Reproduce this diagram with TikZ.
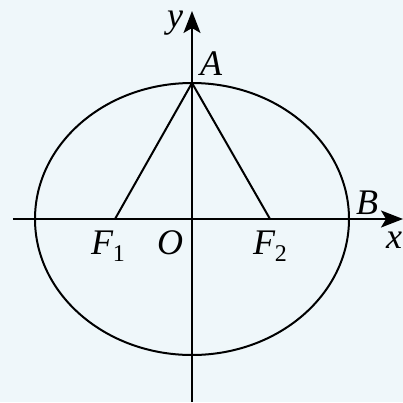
\documentclass[tikz,border=0pt]{standalone}
\usepackage{fontspec}
\setmainfont{Liberation Serif}
\usetikzlibrary{arrows.meta}
\definecolor{bgcol}{RGB}{239,247,250}
\tikzset{
  curve/.style={line width=2pt, black},
  axis/.style={line width=2pt, black, -{Stealth[length=22pt,width=17pt,inset=5pt]}},
  lbl/.style={inner sep=0pt, font=\fontsize{36}{36}\selectfont\itshape}
}
\newcommand{\subone}[1]{\raisebox{-0.2em}{\fontsize{24}{24}\selectfont\upshape #1}}
\begin{document}
\begin{tikzpicture}[x=1pt,y=1pt]
\fill[bgcol] (-192,-183) rectangle (211,219);
\useasboundingbox (-192,-183) rectangle (211,219);
\coordinate (O) at (0,0);
\coordinate (A) at (0,136);
\coordinate (F1) at (-77,0);
\coordinate (F2) at (78,0);
\coordinate (xs) at (-179,0);
\coordinate (xe) at (211,0);
\coordinate (ys) at (0,-183);
\coordinate (ye) at (0,208);
\draw[curve] (O) ellipse [x radius=157, y radius=136];
\draw[axis] (xs) -- (xe);
\draw[axis] (ys) -- (ye);
\draw[curve, line join=miter] (F1) -- (A) -- (F2);
\node[lbl] (ly) at (-17,196) {y};
\node[lbl] (lA) at (19,155) {A};
\node[lbl] (lB) at (175,16) {B};
\node[lbl] (lx) at (202,-21) {x};
\node[lbl] (lF1) at (-84,-27) {F\subone{1}};
\node[lbl] (lO) at (-22,-24) {O};
\node[lbl] (lF2) at (78,-27) {F\subone{2}};
\end{tikzpicture}
\end{document}
